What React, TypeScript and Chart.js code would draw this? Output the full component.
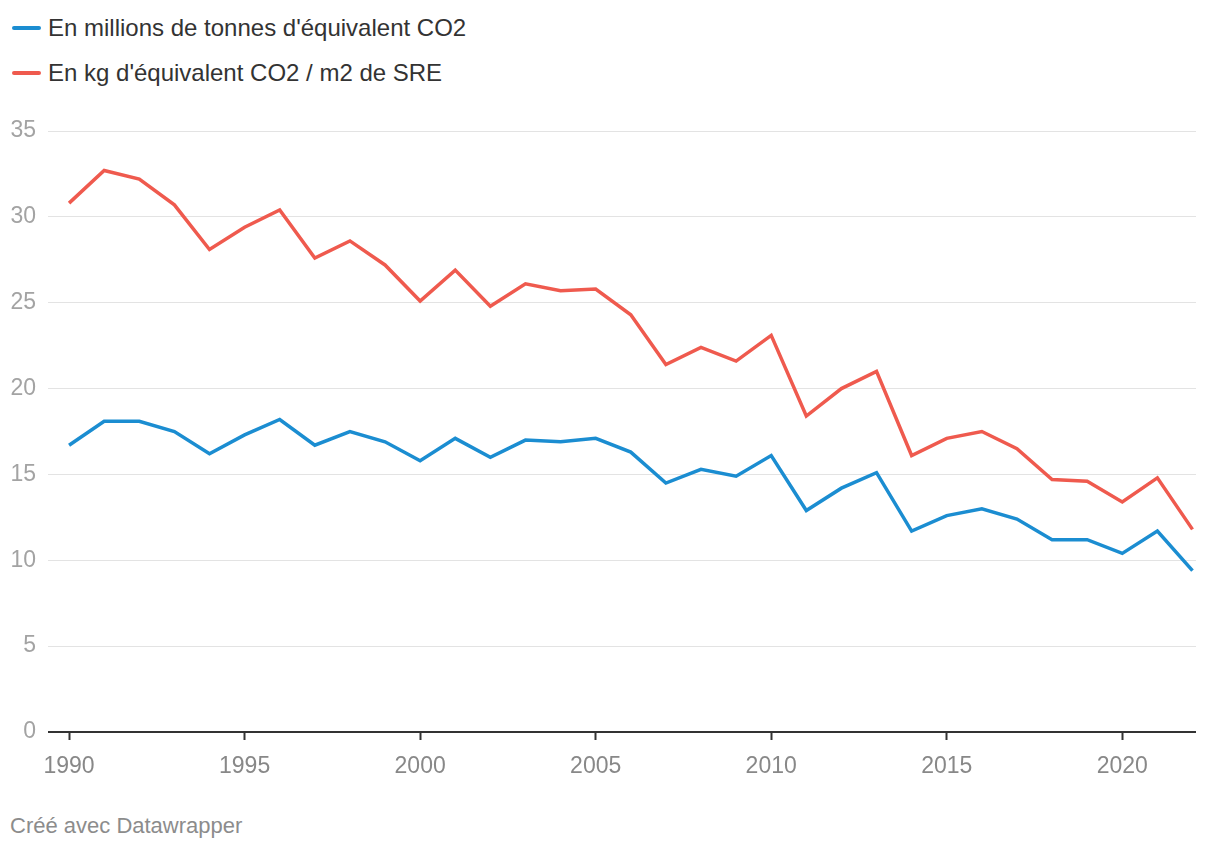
import React, { useEffect, useRef } from "react";
import { Chart, registerables } from "chart.js";

Chart.register(...registerables);

const years: number[] = [
  1990, 1991, 1992, 1993, 1994, 1995, 1996, 1997, 1998, 1999, 2000, 2001, 2002, 2003, 2004, 2005, 2006,
  2007, 2008, 2009, 2010, 2011, 2012, 2013, 2014, 2015, 2016, 2017, 2018, 2019, 2020, 2021, 2022,
];
const tonnes: number[] = [
  16.7, 18.1, 18.1, 17.5, 16.2, 17.3, 18.2, 16.7, 17.5, 16.9, 15.8, 17.1, 16.0, 17.0, 16.9, 17.1, 16.3,
  14.5, 15.3, 14.9, 16.1, 12.9, 14.2, 15.1, 11.7, 12.6, 13.0, 12.4, 11.2, 11.2, 10.4, 11.7, 9.4,
];
const kgPerM2: number[] = [
  30.8, 32.7, 32.2, 30.7, 28.1, 29.4, 30.4, 27.6, 28.6, 27.2, 25.1, 26.9, 24.8, 26.1, 25.7, 25.8, 24.3,
  21.4, 22.4, 21.6, 23.1, 18.4, 20.0, 21.0, 16.1, 17.1, 17.5, 16.5, 14.7, 14.6, 13.4, 14.8, 11.8,
];
const xTicks: number[] = [1990, 1995, 2000, 2005, 2010, 2015, 2020];
const yTicks: number[] = [0, 5, 10, 15, 20, 25, 30, 35];
const seriesLabels: string[] = [
  "En millions de tonnes d'équivalent CO2",
  "En kg d'équivalent CO2 / m2 de SRE",
];
const seriesColors: string[] = ["#1b8dd1", "#ef5a4e"];
const footer = "Créé avec Datawrapper";

const FONT = "'Liberation Sans', Arial, Helvetica, sans-serif";

export default function App() {
  const ref = useRef<HTMLCanvasElement | null>(null);

  useEffect(() => {
    if (!ref.current) return;
    const chart = new Chart(ref.current, {
      type: "line",
      data: {
        datasets: [
          {
            label: seriesLabels[0],
            data: years.map((y, i) => ({ x: y, y: tonnes[i] })),
            borderColor: seriesColors[0],
            backgroundColor: seriesColors[0],
            borderWidth: 3.5,
            pointRadius: 0,
            tension: 0,
          },
          {
            label: seriesLabels[1],
            data: years.map((y, i) => ({ x: y, y: kgPerM2[i] })),
            borderColor: seriesColors[1],
            backgroundColor: seriesColors[1],
            borderWidth: 3.5,
            pointRadius: 0,
            tension: 0,
          },
        ],
      },
      options: {
        animation: false,
        responsive: false,
        maintainAspectRatio: false,
        layout: { padding: { top: 31, right: 24, left: 0, bottom: 0 } },
        plugins: {
          legend: { display: false },
          tooltip: { enabled: false },
        },
        scales: {
          x: {
            type: "linear",
            min: 1989.4,
            max: 2022.1,
            afterBuildTicks: (scale: any) => {
              scale.ticks = xTicks.map((v) => ({ value: v }));
            },
            afterFit: (scale: any) => {
              scale.height = 68;
            },
            border: { display: false },
            grid: {
              drawOnChartArea: false,
              drawTicks: true,
              tickLength: 8,
              tickColor: "#333333",
              tickWidth: 2,
            },
            ticks: {
              padding: 13,
              color: "#888888",
              font: { family: FONT, size: 23 },
              callback: (v: any) => String(v),
              maxRotation: 0,
            },
          },
          y: {
            type: "linear",
            min: 0,
            max: 35,
            afterBuildTicks: (scale: any) => {
              scale.ticks = yTicks.map((v) => ({ value: v }));
            },
            afterFit: (scale: any) => {
              scale.width = 48;
            },
            border: { display: false },
            grid: {
              drawTicks: false,
              color: (ctx: any) => (ctx.tick && ctx.tick.value === 0 ? "#333333" : "#e3e3e3"),
              lineWidth: (ctx: any) => (ctx.tick && ctx.tick.value === 0 ? 2 : 1),
            },
            ticks: {
              padding: 12,
              color: "#a3a3a3",
              font: { family: FONT, size: 23 },
            },
          },
        },
      },
    });
    return () => chart.destroy();
  }, []);

  return (
    <div
      style={{
        position: "absolute",
        left: 0,
        top: 0,
        width: 1220,
        height: 850,
        background: "#ffffff",
        fontFamily: FONT,
        overflow: "hidden",
      }}
    >
      {seriesLabels.map((label, i) => (
        <div
          key={label}
          style={{
            position: "absolute",
            left: 12,
            top: 12 + i * 45,
            height: 32,
            display: "flex",
            alignItems: "center",
            color: "#333333",
            fontSize: 24,
          }}
        >
          <span
            style={{
              display: "inline-block",
              width: 29,
              height: 4,
              borderRadius: 2,
              background: seriesColors[i],
              marginRight: 7,
            }}
          />
          <span>{label}</span>
        </div>
      ))}
      <canvas
        ref={ref}
        width={1220}
        height={700}
        style={{ position: "absolute", left: 0, top: 100, width: 1220, height: 700 }}
      />
      <div
        style={{
          position: "absolute",
          left: 10,
          top: 813,
          color: "#8c8c8c",
          fontSize: 22,
        }}
      >
        {footer}
      </div>
    </div>
  );
}
